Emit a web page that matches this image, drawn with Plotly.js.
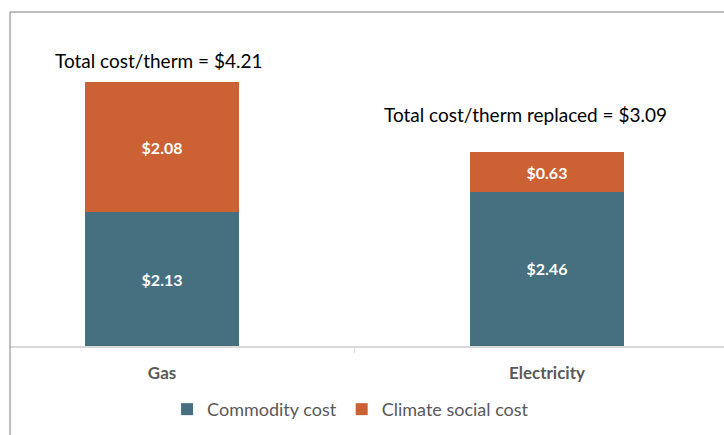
<!DOCTYPE html>
<html>
<head>
<meta charset="utf-8">
<script src="https://cdn.plot.ly/plotly-3.0.1.min.js"></script>
<style>html,body{margin:0;padding:0;background:#fff;}#chart{width:724px;height:435px;}</style>
</head>
<body>
<div id="chart"></div>
<script>
const categories = ["Gas", "Electricity"];
const commodityCost = [2.13, 2.46];
const climateSocialCost = [2.08, 0.63];
const seriesNames = ["Commodity cost", "Climate social cost"];
const annotationPrefixes = ["Total cost/therm = ", "Total cost/therm replaced = "];

const totals = categories.map((c, i) => commodityCost[i] + climateSocialCost[i]);
const FONT = "Lato, 'Open Sans', sans-serif";

const traces = [
  {
    type: "bar", name: seriesNames[0], x: categories, y: commodityCost,
    marker: {color: "#466f80"},
    texttemplate: "$%{y:.2f}", textposition: "inside", insidetextanchor: "middle",
    textfont: {color: "#ffffff", size: 16, family: FONT, weight: "bold"},
    hoverinfo: "skip"
  },
  {
    type: "bar", name: seriesNames[1], x: categories, y: climateSocialCost,
    marker: {color: "#cc6133"},
    texttemplate: "$%{y:.2f}", textposition: "inside", insidetextanchor: "middle",
    textfont: {color: "#ffffff", size: 16, family: FONT, weight: "bold"},
    hoverinfo: "skip"
  }
];

const annYOffsets = [0.35, 0.61];
const annXShifts = [-3, -21];
const annotations = categories.map((c, i) => ({
  x: c, y: totals[i] + annYOffsets[i], xref: "x", yref: "y",
  xshift: annXShifts[i],
  text: annotationPrefixes[i] + "$" + totals[i].toFixed(2),
  showarrow: false, font: {size: 19, color: "#000000", family: FONT},
  xanchor: "center", yanchor: "middle"
}));

const layout = {
  width: 724, height: 435,
  margin: {l: 10, r: 0, t: 12, b: 89},
  paper_bgcolor: "#ffffff", plot_bgcolor: "#ffffff",
  barmode: "stack", bargap: 0.6,
  showlegend: true,
  legend: {
    orientation: "h", x: 0.477, xanchor: "center", y: -0.19, yanchor: "middle",
    font: {size: 18, color: "#595959", family: FONT}, traceorder: "normal",
    itemwidth: 30
  },
  xaxis: {
    type: "category", range: [-0.395, 1.46],
    showline: true, linecolor: "#d9d9d9", linewidth: 1.5,
    ticks: "outside", tickson: "boundaries", ticklen: 5, tickcolor: "#d9d9d9",
    ticklabelstandoff: 11,
    tickfont: {size: 17, color: "#595959", family: FONT, weight: "bold"},
    showgrid: false, zeroline: false, fixedrange: true
  },
  yaxis: {
    range: [0, 5.327], visible: false, showgrid: false, zeroline: false, fixedrange: true
  },
  annotations: annotations,
  shapes: [
    {type: "line", xref: "paper", yref: "paper", x0: 0, x1: 0, y0: -0.3, y1: 1, line: {color: "#7f7f7f", width: 1}},
    {type: "line", xref: "paper", yref: "paper", x0: 0, x1: 1.01, y0: 1, y1: 1, line: {color: "#7f7f7f", width: 1}}
  ],
  font: {family: FONT}
};

Plotly.newPlot("chart", traces, layout, {staticPlot: true, displayModeBar: false});
</script>
</body>
</html>
